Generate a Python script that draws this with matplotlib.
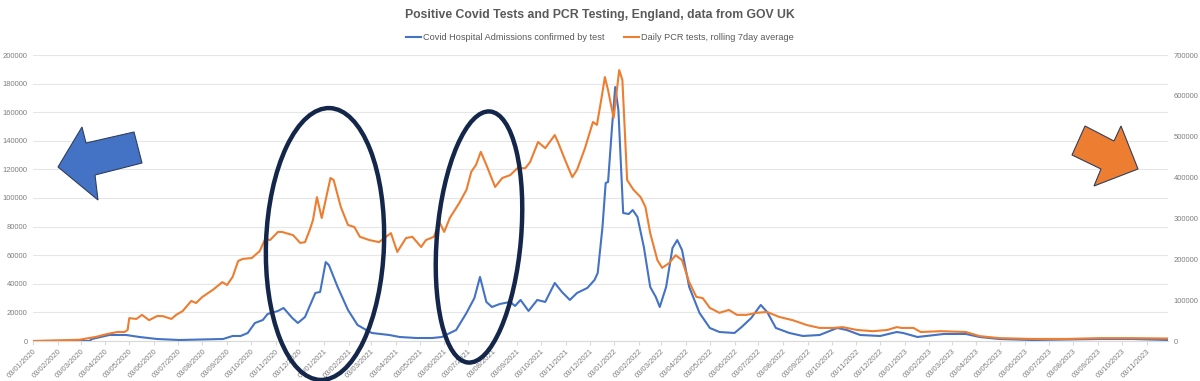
import numpy as np
import pandas as pd
import matplotlib
matplotlib.use("Agg")
import matplotlib.pyplot as plt
import matplotlib.dates as mdates
from matplotlib.patches import Polygon, Ellipse
from matplotlib.transforms import IdentityTransform

#=======================================================
# Data
#=======================================================

adm_dates = ["2020-01-03", "2020-03-14", "2020-03-17", "2020-04-08", "2020-04-29", "2020-05-16",
             "2020-06-07", "2020-07-05", "2020-08-29", "2020-09-10", "2020-09-20", "2020-09-29",
             "2020-10-08", "2020-10-18", "2020-10-24", "2020-11-06", "2020-11-13", "2020-11-24",
             "2020-12-01", "2020-12-10", "2020-12-23", "2020-12-29", "2021-01-05", "2021-01-09",
             "2021-01-20", "2021-02-02", "2021-02-14", "2021-02-25", "2021-03-04", "2021-03-26",
             "2021-04-08", "2021-04-29", "2021-05-19", "2021-05-31", "2021-06-18", "2021-07-01",
             "2021-07-11", "2021-07-18", "2021-07-26", "2021-08-02", "2021-08-12", "2021-08-25",
             "2021-08-31", "2021-09-07", "2021-09-17", "2021-09-28", "2021-10-08", "2021-10-20",
             "2021-10-29", "2021-11-08", "2021-11-17", "2021-11-30", "2021-12-09", "2021-12-13",
             "2021-12-19", "2021-12-23", "2021-12-26", "2021-12-31", "2022-01-04", "2022-01-08",
             "2022-01-14", "2022-01-21", "2022-01-26", "2022-02-01", "2022-02-09", "2022-02-17",
             "2022-02-24", "2022-03-01", "2022-03-09", "2022-03-17", "2022-03-23", "2022-03-29",
             "2022-04-07", "2022-04-20", "2022-05-03", "2022-05-15", "2022-06-03", "2022-06-12",
             "2022-06-24", "2022-07-06", "2022-07-14", "2022-07-25", "2022-08-11", "2022-08-28",
             "2022-09-18", "2022-10-10", "2022-10-22", "2022-11-08", "2022-12-03", "2022-12-24",
             "2023-01-01", "2023-01-19", "2023-02-21", "2023-03-21", "2023-04-07", "2023-05-02",
             "2023-06-13", "2023-09-05", "2023-10-17", "2023-11-30"]
admissions = [0, 0, 1400, 4200, 4200, 2800,
              1400, 700, 1400, 3500, 3500, 5600,
              12600, 14700, 18900, 21000, 23100, 16100,
              12600, 16800, 33600, 34300, 55200, 53100,
              37800, 21700, 11200, 7700, 5600, 4200,
              2800, 2100, 2100, 2800, 7700, 19600,
              30100, 44800, 27300, 23800, 25900, 27300,
              24500, 28700, 21000, 28700, 27300, 40600,
              34300, 28700, 33600, 37100, 42700, 47600,
              79700, 110500, 111200, 149700, 177600, 161500,
              89500, 88800, 91600, 86700, 65700, 37800,
              30800, 23800, 37800, 65000, 70600, 63600,
              37800, 19600, 9100, 6300, 5600, 9800,
              16100, 25200, 20300, 9100, 5600, 3500,
              4200, 9100, 7700, 4200, 3500, 6300,
              5600, 2800, 4900, 4900, 2800, 1400,
              700, 1400, 1400, 700]

pcr_dates = ["2020-01-03", "2020-03-01", "2020-03-22", "2020-04-05", "2020-04-18", "2020-04-27",
             "2020-05-01", "2020-05-03", "2020-05-12", "2020-05-19", "2020-05-28", "2020-06-07",
             "2020-06-14", "2020-06-25", "2020-07-01", "2020-07-09", "2020-07-20", "2020-07-26",
             "2020-08-03", "2020-08-16", "2020-08-28", "2020-09-03", "2020-09-10", "2020-09-17",
             "2020-09-23", "2020-10-04", "2020-10-14", "2020-10-21", "2020-10-27", "2020-11-06",
             "2020-11-11", "2020-11-25", "2020-12-04", "2020-12-10", "2020-12-16", "2020-12-20",
             "2020-12-25", "2020-12-31", "2021-01-11", "2021-01-15", "2021-01-24", "2021-02-02",
             "2021-02-10", "2021-02-17", "2021-03-01", "2021-03-13", "2021-03-28", "2021-04-05",
             "2021-04-16", "2021-04-24", "2021-05-05", "2021-05-11", "2021-05-21", "2021-05-28",
             "2021-06-03", "2021-06-10", "2021-06-22", "2021-07-01", "2021-07-07", "2021-07-13",
             "2021-07-19", "2021-07-26", "2021-08-06", "2021-08-15", "2021-08-25", "2021-09-03",
             "2021-09-13", "2021-09-19", "2021-09-29", "2021-10-08", "2021-10-20", "2021-10-24",
             "2021-11-02", "2021-11-11", "2021-11-17", "2021-11-27", "2021-12-07", "2021-12-12",
             "2021-12-18", "2021-12-22", "2021-12-26", "2022-01-02", "2022-01-09", "2022-01-13",
             "2022-01-19", "2022-01-27", "2022-02-05", "2022-02-11", "2022-02-17", "2022-02-26",
             "2022-03-04", "2022-03-13", "2022-03-21", "2022-03-29", "2022-04-07", "2022-04-16",
             "2022-04-24", "2022-05-03", "2022-05-15", "2022-05-27", "2022-06-06", "2022-06-18",
             "2022-07-01", "2022-07-14", "2022-07-29", "2022-08-15", "2022-09-02", "2022-09-18",
             "2022-10-05", "2022-10-17", "2022-11-04", "2022-11-24", "2022-12-12", "2022-12-24",
             "2022-12-30", "2023-01-14", "2023-01-23", "2023-02-17", "2023-03-21", "2023-04-07",
             "2023-05-02", "2023-06-13", "2023-07-25", "2023-09-05", "2023-10-17", "2023-11-30"]
pcr_tests = [0, 3000, 10000, 17000, 22000, 22000,
             27000, 56000, 54000, 64000, 51000, 61000,
             61000, 54000, 64000, 73000, 98000, 93000,
             108000, 125000, 144000, 137000, 157000, 196000,
             201000, 203000, 220000, 250000, 247000, 267000,
             267000, 259000, 240000, 242000, 272000, 296000,
             352000, 301000, 399000, 394000, 328000, 284000,
             279000, 255000, 247000, 242000, 264000, 218000,
             252000, 255000, 230000, 247000, 255000, 291000,
             267000, 301000, 338000, 370000, 414000, 431000,
             463000, 431000, 377000, 399000, 406000, 423000,
             423000, 438000, 487000, 472000, 504000, 487000,
             443000, 401000, 419000, 472000, 536000, 529000,
             597000, 646000, 614000, 546000, 663000, 639000,
             394000, 370000, 352000, 328000, 264000, 198000,
             179000, 191000, 210000, 198000, 144000, 108000,
             105000, 81000, 69000, 76000, 64000, 64000,
             69000, 71000, 59000, 51000, 39000, 32000,
             32000, 34000, 27000, 24000, 27000, 34000,
             32000, 32000, 22000, 24000, 22000, 12000,
             7000, 5000, 5000, 7000, 7000, 6000]

title = "Positive Covid Tests and PCR Testing, England, data from GOV UK"
label_adm = "Covid Hospital Admissions confirmed by test"
label_pcr = "Daily PCR tests, rolling 7day average"

#=======================================================
# Plot
#=======================================================

plt.rcParams['font.family'] = ['Liberation Sans', 'DejaVu Sans']
W, H = 1200, 381
fig = plt.figure(figsize=(W / 100, H / 100), dpi=100)
ax = fig.add_axes([33 / W, 40 / H, (1168 - 33) / W, (341 - 55) / H])
ax2 = ax.twinx()

blue = '#4472C4'
orange = '#ED7D31'
grey = '#7f7f7f'

ax.plot(pd.to_datetime(adm_dates), admissions, color=blue, lw=1.5, zorder=3)
ax2.plot(pd.to_datetime(pcr_dates), pcr_tests, color=orange, lw=1.5, zorder=3)

ax.set_xlim(pd.Timestamp("2020-01-03"), pd.Timestamp("2023-11-30"))
ax.set_ylim(0, 200000)
ax2.set_ylim(0, 700000)
ax.set_yticks(np.arange(0, 200001, 20000))
ax2.set_yticks(np.arange(0, 700001, 100000))

ax.xaxis.set_major_locator(mdates.MonthLocator(bymonthday=3))
ax.xaxis.set_major_formatter(mdates.DateFormatter('%d/%m/%Y'))
for lab in ax.get_xticklabels():
    lab.set_rotation(45)
    lab.set_ha('right')
    lab.set_rotation_mode('anchor')

ax.grid(axis='y', color='#e6e6e6', lw=0.8)
ax.set_axisbelow(True)
for a in (ax, ax2):
    for s in a.spines.values():
        s.set_visible(False)
ax.spines['bottom'].set_visible(True)
ax.spines['bottom'].set_color('#d9d9d9')
ax.tick_params(axis='x', labelsize=5.5, colors=grey, length=3, color='#d9d9d9', pad=2)
ax.tick_params(axis='y', labelsize=5.5, colors=grey, length=0, pad=4)
ax2.tick_params(axis='y', labelsize=5.5, colors=grey, length=0, pad=4)

fig.text(0.5, 1 - 15 / H, title, ha='center', va='center', fontsize=8.8,
         fontweight='bold', color='#595959')
h1, = ax.plot([], [], color=blue, lw=1.5)
h2, = ax.plot([], [], color=orange, lw=1.5)
fig.legend([h1, h2], [label_adm, label_pcr], loc='center', ncol=2,
           bbox_to_anchor=(0.5, 1 - 38 / H), frameon=False, fontsize=6.6,
           labelcolor='#595959', handlelength=1.6, handletextpad=0.2,
           columnspacing=2.2)

# annotations: ellipses and arrows (pixel coordinates, y from top)
navy = '#14264a'
for cx, cy, w, h, ang in [(325, 244, 118, 272, -2), (479, 237, 84, 252, -5)]:
    fig.add_artist(Ellipse((cx, H - cy), w, h, angle=ang, fill=False,
                           ec=navy, lw=3.2, transform=IdentityTransform(), zorder=10))

left_arrow = [(58, 167), (82, 127), (86, 143), (134, 132), (142, 163), (95, 175), (98, 200)]
right_arrow = [(1138, 169), (1121, 126), (1114, 141), (1085, 126), (1072, 155),
               (1101, 169), (1094, 186)]
for pts, col in [(left_arrow, blue), (right_arrow, orange)]:
    fig.add_artist(Polygon([(x, H - y) for x, y in pts], closed=True, fc=col,
                           ec='#2f3f5f', lw=0.8, transform=IdentityTransform(), zorder=10))

fig.savefig('out.png', dpi=100)
